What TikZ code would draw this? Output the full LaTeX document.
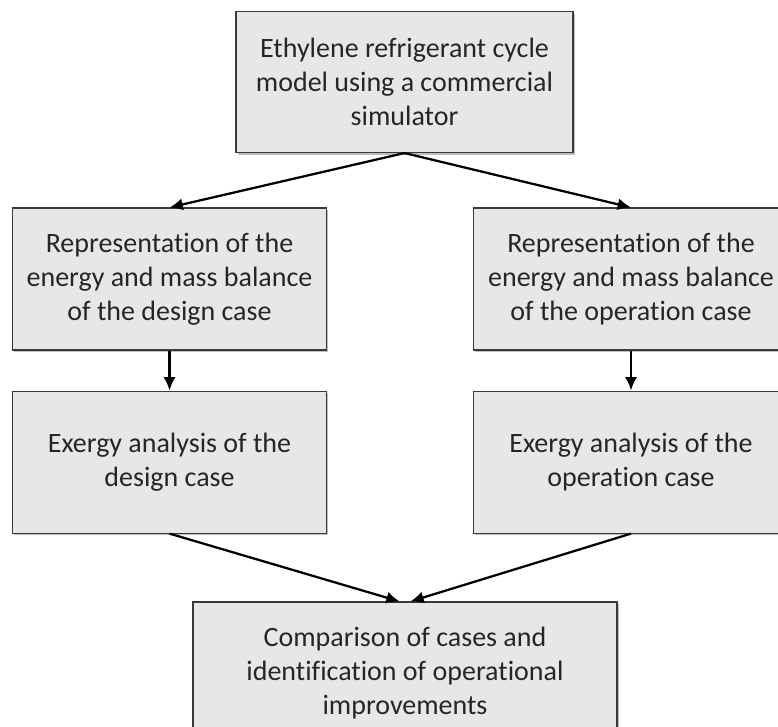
\documentclass[tikz,border=0pt]{standalone}
\usepackage{fontspec}
\setmainfont[Ligatures=NoCommon]{Carlito}
\usetikzlibrary{arrows.meta, positioning, shadows}
\definecolor{boxfill}{HTML}{E8E6E7}
\definecolor{boxline}{HTML}{3A3A3A}
\definecolor{boxtext}{HTML}{262626}

\begin{document}
\begin{tikzpicture}[
      x=0.75pt, y=-0.75pt,
      box/.style={
        rectangle,
        fill=boxfill,
        draw=boxline,
        line width=0.8pt,
        minimum width=236pt,
        minimum height=106.5pt,
        align=center,
        inner sep=0pt,
        text=boxtext,
        font=\fontsize{21}{25.5}\selectfont,
        drop shadow={shadow xshift=1.2pt, shadow yshift=-1.5pt,
          fill=black, opacity=0.25}
      },
      arr/.style={-{Latex[length=10pt, width=9pt]}, line width=1.7pt}
    ]
      \useasboundingbox (0,0) rectangle (778,726);

      \node[box, minimum width=252.75pt, minimum height=105.75pt]
        (model) at (404.5,82) {Ethylene refrigerant cycle\\model using a commercial\\simulator};

      \node[box] (design) at (169.5,279)
        {Representation of the\\energy and mass balance\\of the design case};
      \node[box] (oper) at (631,279)
        {Representation of the\\energy and mass balance\\of the operation case};

      \node[box, below=30pt of design] (exdesign)
        {Exergy analysis of the\\design case};
      \node[box, below=30pt of oper] (exoper)
        {Exergy analysis of the\\operation case};

      \node[box, minimum width=318pt] (compare) at (405,673)
        {Comparison of cases and\\identification of operational\\improvements};

      \draw[arr] (model.south) -- (design.north);
      \draw[arr] (model.south) -- (oper.north);

      \draw[arr] (design) -- (exdesign);
      \draw[arr] (oper) -- (exoper);

      \draw[arr] (exdesign.south) -- ([xshift=-4pt]compare.north);
      \draw[arr] (exoper.south) -- ([xshift=4pt]compare.north);
    \end{tikzpicture}
\end{document}
